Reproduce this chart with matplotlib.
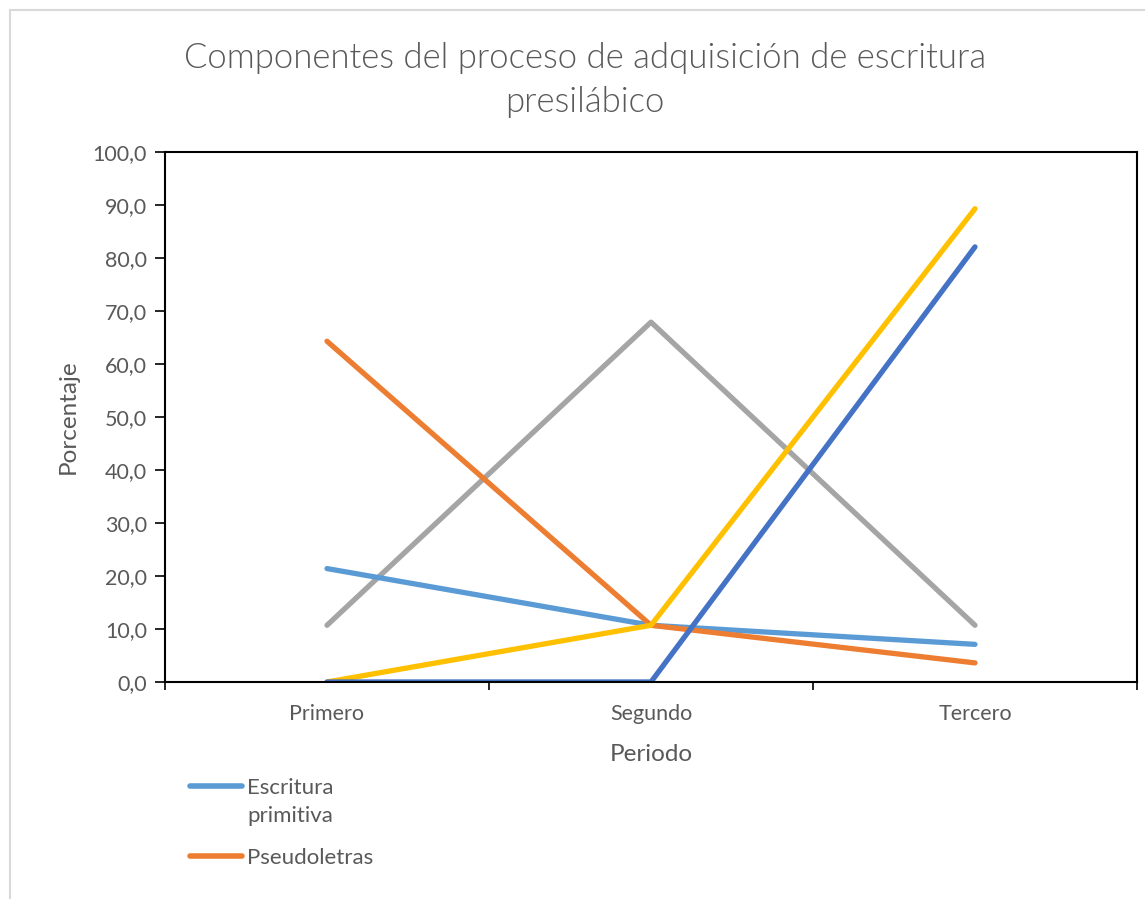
import matplotlib
matplotlib.use("Agg")
from matplotlib import pyplot as plt
from matplotlib.patches import Rectangle
from matplotlib.lines import Line2D

periodos = ["Primero", "Segundo", "Tercero"]
escritura_primitiva = [21.4, 10.7, 7.1]
pseudoletras = [64.3, 10.7, 3.6]
serie_gris = [10.7, 67.9, 10.7]
serie_amarilla = [0.0, 10.7, 89.3]
serie_azul = [0.0, 0.0, 82.1]

leyenda_textos = ["Escritura\nprimitiva", "Pseudoletras"]
leyenda_colores = ["#5B9BD5", "#ED7D31"]

plt.rcParams['font.family'] = ['Lato', 'DejaVu Sans']
gris_texto = "#595959"
W, H = 1145, 899

fig = plt.figure(figsize=(W / 100, H / 100), dpi=100)
ax = fig.add_axes([0.1441, 0.2414, 0.8489, 0.5895])

# outer chart border
fig.patches.append(Rectangle((10 / W, -0.1), 1.2, 1 - 10 / H + 0.1,
                             transform=fig.transFigure, fill=False,
                             edgecolor="#D9D9D9", linewidth=1.5))

x = range(len(periodos))
estilo = dict(linewidth=3.8, solid_capstyle="round", solid_joinstyle="round")
ax.plot(x, serie_gris, color="#A5A5A5", **estilo)
ax.plot(x, escritura_primitiva, color="#5B9BD5", **estilo)
ax.plot(x, pseudoletras, color="#ED7D31", **estilo)
ax.plot(x, serie_amarilla, color="#FFC000", **estilo)
ax.plot(x, serie_azul, color="#4472C4", **estilo)

ax.set_xlim(-0.5, 2.5)
ax.set_ylim(0, 100)
ax.set_yticks(range(0, 101, 10))
ax.set_yticklabels([f"{v:.1f}".replace(".", ",") for v in range(0, 101, 10)])
ax.set_xticks([-0.5, 0.5, 1.5, 2.5])
ax.set_xticklabels([])
ax.set_xticks(list(x), minor=True)
ax.set_xticklabels(periodos, minor=True)
ax.tick_params(axis="x", which="minor", length=0, pad=16, labelsize=15.5, labelcolor=gris_texto)
ax.tick_params(axis="x", which="major", length=6, width=1.2, direction="out")
ax.tick_params(axis="y", length=7, width=1.2, direction="out", labelsize=15.5,
               labelcolor=gris_texto, pad=6)
for s in ax.spines.values():
    s.set_linewidth(1.5)
    s.set_color("black")

ax.set_xlabel("Periodo", fontsize=17.5, color=gris_texto, labelpad=14)
ax.set_ylabel("Porcentaje", fontsize=17.5, color=gris_texto, labelpad=10)
fig.text(585 / W, 1 - 80 / H, "Componentes del proceso de adquisición de escritura\npresilábico",
         ha="center", va="center", fontsize=25, fontweight=300,
         color=gris_texto, linespacing=1.5)

# legend drawn by hand so the key lines up with the first text line
y_leyenda = [786, 856]
for texto, color, yp in zip(leyenda_textos, leyenda_colores, y_leyenda):
    fig.add_artist(Line2D([190 / W, 242 / W], [1 - yp / H, 1 - yp / H], color=color,
                          linewidth=4, solid_capstyle="round"))
    fig.text(247 / W, 1 - (yp - 8) / H, texto, ha="left", va="top", fontsize=16,
             color=gris_texto, linespacing=1.5)

fig.savefig("out.png", dpi=100)
